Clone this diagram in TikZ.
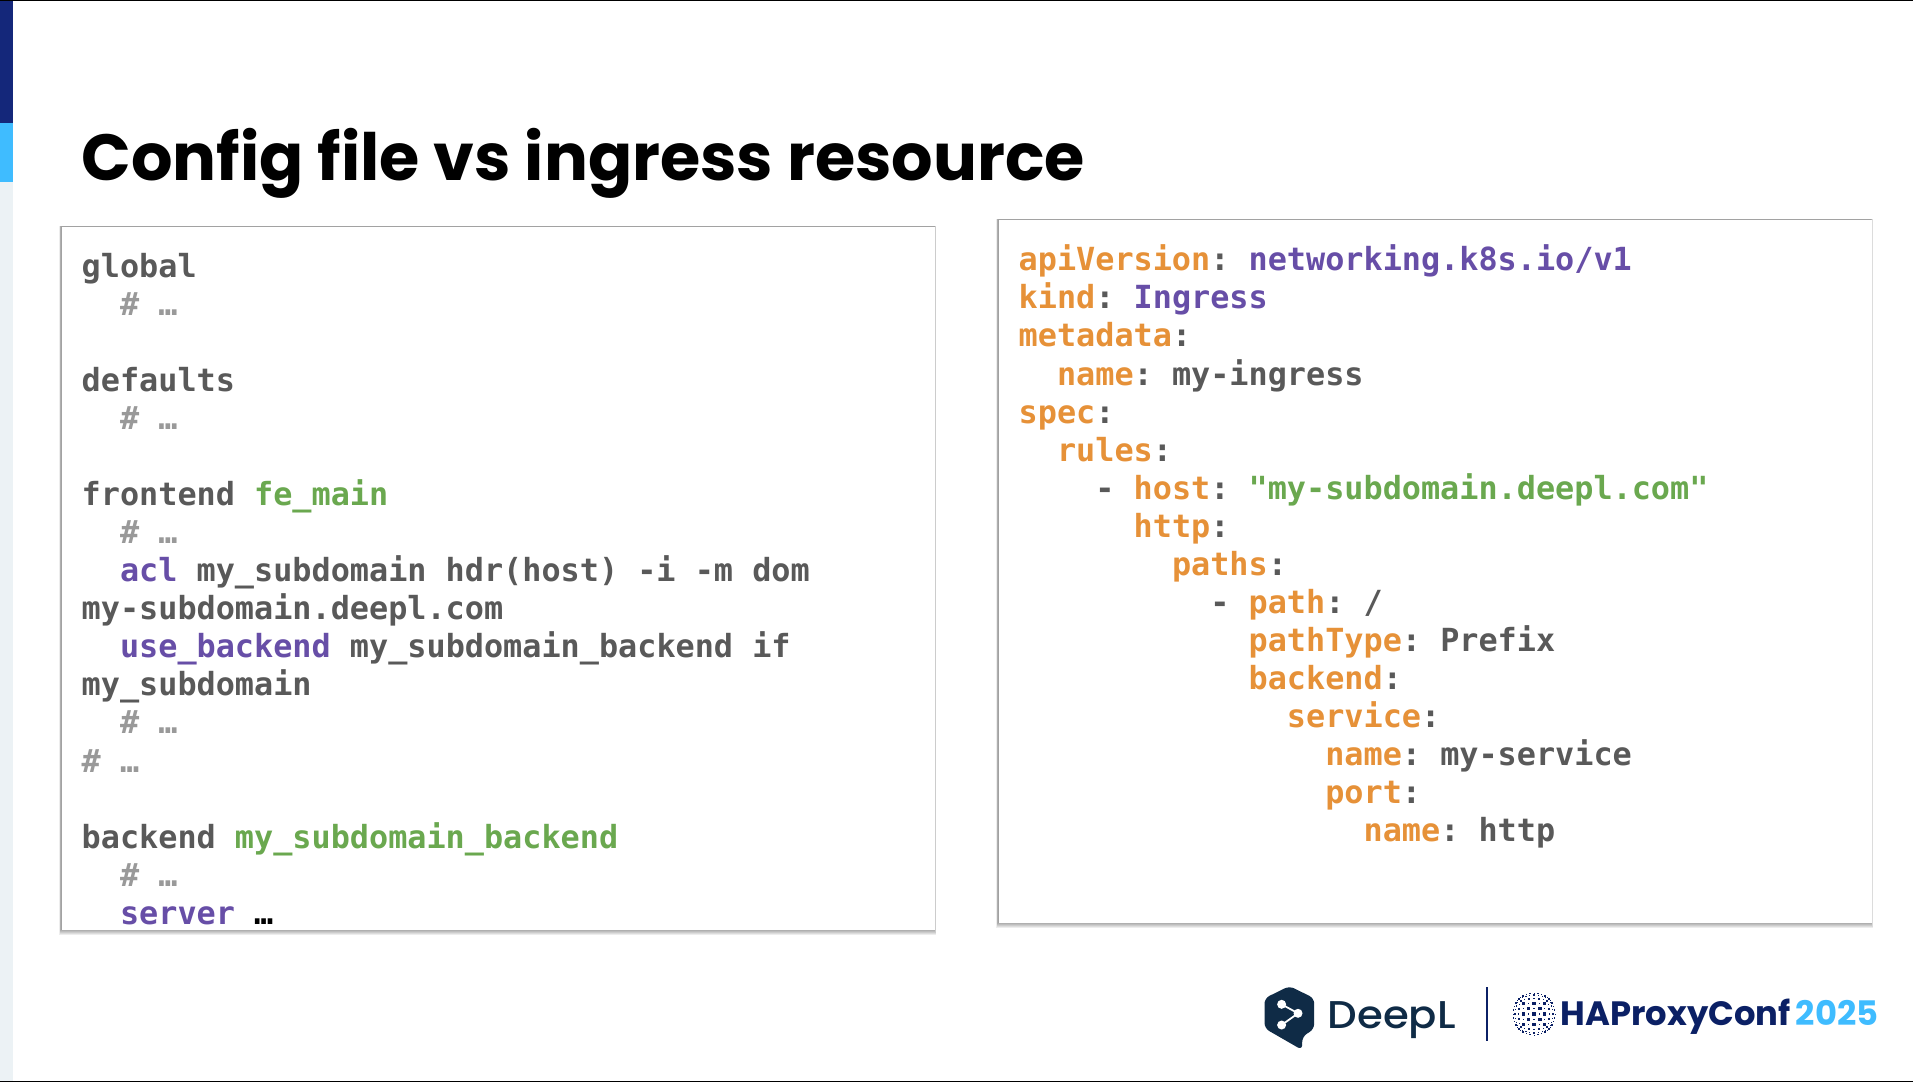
\documentclass[tikz,border=0pt]{standalone}
\usepackage{fontspec}
\setmainfont{Poppins}
\setmonofont{DejaVu Sans Mono}
\newfontfamily\deeplfont[FakeStretch=1.08]{Poppins Medium}
\usetikzlibrary{positioning}

\definecolor{barnavy}{HTML}{14277A}
\definecolor{barsky}{HTML}{3FBCFF}
\definecolor{barpale}{HTML}{ECF2F5}
\definecolor{codegrey}{HTML}{595959}
\definecolor{commentgrey}{HTML}{999999}
\definecolor{keyorange}{HTML}{E69138}
\definecolor{kwpurple}{HTML}{674EA7}
\definecolor{namegreen}{HTML}{6AA84F}
\definecolor{deeplnavy}{HTML}{0F2B46}
\definecolor{haproxynavy}{HTML}{0B2065}

\newcommand{\cmt}[1]{\textcolor{commentgrey}{#1}}
\newcommand{\kw}[1]{\textcolor{kwpurple}{#1}}
\newcommand{\nm}[1]{\textcolor{namegreen}{#1}}
\newcommand{\ky}[1]{\textcolor{keyorange}{#1}}
% layered rectangles give the soft panel shadow
\newcommand{\softshadow}[4]{
  \foreach \d in {1,...,6}
    \fill [black, opacity=0.07] (#1-\d*0.3,#2-\d*0.05) rectangle (#3+\d*0.3,#4+\d*1);
}

\tikzset{
  codebox/.style={rectangle, fill=white, anchor=north west, inner sep=0},
  codetext/.style={anchor=north west, inner sep=0, align=left, text=codegrey,
    font=\fontsize{9.05}{10.82}\selectfont\ttfamily\bfseries}
}

\begin{document}
\begin{tikzpicture}[x=0.01cm, y=-0.01cm]
\useasboundingbox (0,0) rectangle (1913,1082);
\fill [white] (0,0) rectangle (1913,1082);

% slide frame and side bar
\fill [black] (0,0) rectangle (1913,1.5);
\fill [black] (0,1080.5) rectangle (1913,1082);
\fill [barnavy] (0,1.5) rectangle (13,123);
\fill [barsky] (0,123) rectangle (13,182);
\fill [barpale] (0,182) rectangle (13,1080.5);

\node [anchor=base west, inner sep=0, font=\fontsize{18.55}{20}\selectfont\bfseries] (title) at (81,180) {Config file vs ingress resource};

% code panels
\softshadow{61}{226}{934.5}{929}
\softshadow{998}{219}{1871}{922}
\node [codebox, minimum width=873.5*0.01cm, minimum height=703*0.01cm] (configbox) at (61,226) {};
\node [codebox, minimum width=873*0.01cm, minimum height=703*0.01cm] (ingressbox) at (998,219) {};

\node [codetext] (configtext) at (81,252.5) {global\\
\ \ \cmt{\# …}\\
\\
defaults\\
\ \ \cmt{\# …}\\
\\
frontend \nm{fe\_main}\\
\ \ \cmt{\# …}\\
\ \ \kw{acl} my\_subdomain hdr(host) -i -m dom\\
my-subdomain.deepl.com\\
\ \ \kw{use\_backend} my\_subdomain\_backend if\\
my\_subdomain\\
\ \ \cmt{\# …}\\
\cmt{\# …}\\
\\
backend \nm{my\_subdomain\_backend}\\
\ \ \cmt{\# …}\\
\ \ \kw{server} \textcolor{black}{…}};

\node [codetext] (ingresstext) at (1018,244.3) {\ky{apiVersion}: \kw{networking.k8s.io/v1}\\
\ky{kind}: \kw{Ingress}\\
\ky{metadata}:\\
\ \ \ky{name}: my-ingress\\
\ky{spec}:\\
\ \ \ky{rules}:\\
\ \ \ \ - \ky{host}: \nm{"my-subdomain.deepl.com"}\\
\ \ \ \ \ \ \ky{http}:\\
\ \ \ \ \ \ \ \ \ky{paths}:\\
\ \ \ \ \ \ \ \ \ \ - \ky{path}: /\\
\ \ \ \ \ \ \ \ \ \ \ \ \ky{pathType}: Prefix\\
\ \ \ \ \ \ \ \ \ \ \ \ \ky{backend}:\\
\ \ \ \ \ \ \ \ \ \ \ \ \ \ \ky{service}:\\
\ \ \ \ \ \ \ \ \ \ \ \ \ \ \ \ \ky{name}: my-service\\
\ \ \ \ \ \ \ \ \ \ \ \ \ \ \ \ \ky{port}:\\
\ \ \ \ \ \ \ \ \ \ \ \ \ \ \ \ \ \ \ky{name}: http};

% DeepL logo
\fill [deeplnavy, rounded corners=1.5pt] (1289.4,986) -- (1314.2,998.3) -- (1314.2,1029) -- (1302.2,1036.7) -- (1302.2,1050) -- (1264.5,1028.3) -- (1264.5,998.3) -- cycle;
\draw [white, line width=0.5pt] (1281.6,1004.3) -- (1298,1013.3) -- (1281.6,1025);
\fill [white] (1281.6,1004.3) circle [radius=4.5];
\fill [white] (1298,1013.3) circle [radius=4.5];
\fill [white] (1281.6,1025) circle [radius=4.5];
\node [anchor=base west, inner sep=0, text=deeplnavy, font=\fontsize{11}{12}\selectfont\deeplfont] (deepl) at (1327,1028) {DeepL};

\draw [haproxynavy, line width=0.5pt] (1486.8,987) -- (1486.8,1040.7);

% HAProxyConf globe
\foreach \i in {-5,...,5}
  \foreach \j in {-5,...,5} {
    \pgfmathsetmacro{\gu}{sin(\i*15)/sin(75)}
    \pgfmathsetmacro{\gv}{sin(\j*15)/sin(75)}
    \pgfmathsetmacro{\gx}{1534+21*\gu*sqrt(1-\gv*\gv/2)}
    \pgfmathsetmacro{\gy}{1014+21*\gv*sqrt(1-\gu*\gu/2)}
    \pgfmathsetmacro{\gs}{(mod(abs(\i+\j),2)==0 ? 2.1 : 0.6)*(1-0.8*max(abs(\gu),abs(\gv)))+0.3}
    \fill [haproxynavy] (\gx-\gs,\gy-\gs) rectangle (\gx+\gs,\gy+\gs);
  }
\node [anchor=base west, inner sep=0, text=haproxynavy, font=\fontsize{9.6}{12}\selectfont\bfseries] (haproxy) at (1560,1025) {HAProxyConf};
\node [anchor=base west, inner sep=0, text=barsky, font=\fontsize{9.6}{12}\selectfont\bfseries] (confyear) at (1795,1025) {2025};
\end{tikzpicture}
\end{document}
